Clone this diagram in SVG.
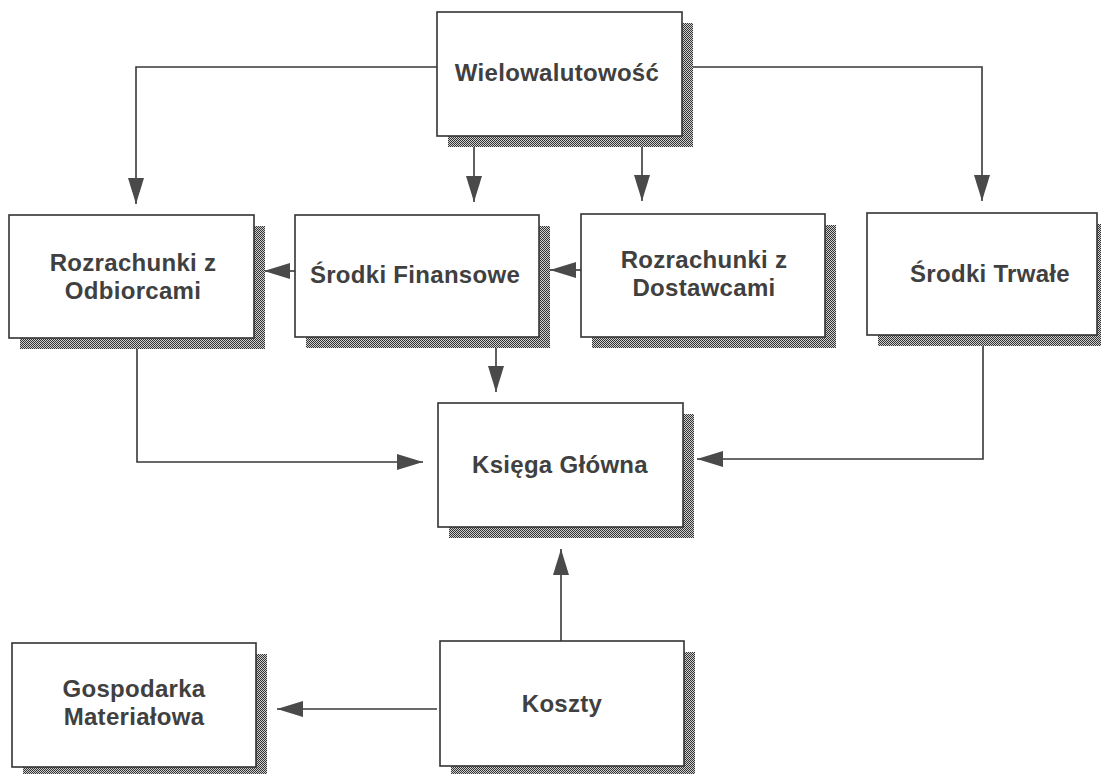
<svg xmlns="http://www.w3.org/2000/svg" width="1101" height="774" viewBox="0 0 1101 774">
  <defs>
    <pattern id="dots" width="2" height="2" patternUnits="userSpaceOnUse">
      <rect width="2" height="2" fill="#cfcfcf"/>
      <rect x="0" y="0" width="1" height="1" fill="#333333"/>
      <rect x="1" y="1" width="1" height="1" fill="#333333"/>
    </pattern>
    <marker id="arr" viewBox="0 0 26 16" refX="26" refY="8" markerWidth="26" markerHeight="16" markerUnits="userSpaceOnUse" orient="auto">
      <path d="M0,0 L26,8 L0,16 Z" fill="#4a4a4a"/>
    </marker>
  </defs>
  <style>
    .shadow { fill: url(#dots); stroke: none; }
    .box { fill: #ffffff; stroke: #333333; stroke-width: 1.6; }
    .lbl { font-family: "Liberation Sans", Arial, sans-serif; font-weight: bold; font-size: 24px; letter-spacing: 0.3px; fill: #404040; text-anchor: middle; }
    .conn { fill: none; stroke: #383838; stroke-width: 1.6; marker-end: url(#arr); }
  </style>
  <rect width="1101" height="774" fill="#ffffff"/>

  <g id="connectors">
    <path class="conn" d="M437,67 H136 V204"/>
    <path class="conn" d="M474,136 V202"/>
    <path class="conn" d="M642,136 V201"/>
    <path class="conn" d="M682,67 H982 V201"/>
    <path class="conn" d="M295,271 H264"/>
    <path class="conn" d="M581,270 H550"/>
    <path class="conn" d="M496,337 V392"/>
    <path class="conn" d="M137,338 V462 H423"/>
    <path class="conn" d="M983,335 V459 H697"/>
    <path class="conn" d="M561,641 V549"/>
    <path class="conn" d="M437,709 H277"/>
  </g>

  <g id="wielowalutowosc">
    <rect class="shadow" x="448" y="23" width="245" height="124"/>
    <rect class="box" x="437" y="12" width="245" height="124"/>
    <text class="lbl" x="557" y="81">Wielowalutowość</text>
  </g>

  <g id="rozrachunki-odbiorcami">
    <rect class="shadow" x="20" y="226" width="245" height="123"/>
    <rect class="box" x="9" y="215" width="245" height="123"/>
    <text class="lbl" x="133" y="271">Rozrachunki z</text>
    <text class="lbl" x="133" y="299">Odbiorcami</text>
  </g>

  <g id="srodki-finansowe">
    <rect class="shadow" x="306" y="226" width="244" height="122"/>
    <rect class="box" x="295" y="215" width="244" height="122"/>
    <text class="lbl" x="415" y="283">Środki Finansowe</text>
  </g>

  <g id="rozrachunki-dostawcami">
    <rect class="shadow" x="592" y="225" width="244" height="123"/>
    <rect class="box" x="581" y="214" width="244" height="123"/>
    <text class="lbl" x="704" y="268">Rozrachunki z</text>
    <text class="lbl" x="704" y="296">Dostawcami</text>
  </g>

  <g id="srodki-trwale">
    <rect class="shadow" x="878" y="224" width="230" height="122"/>
    <rect class="box" x="867" y="213" width="230" height="122"/>
    <text class="lbl" x="990" y="282">Środki Trwałe</text>
  </g>

  <g id="ksiega-glowna">
    <rect class="shadow" x="449" y="414" width="245" height="124"/>
    <rect class="box" x="438" y="403" width="245" height="124"/>
    <text class="lbl" x="560" y="473">Księga Główna</text>
  </g>

  <g id="koszty">
    <rect class="shadow" x="451" y="652" width="244" height="125"/>
    <rect class="box" x="440" y="641" width="244" height="125"/>
    <text class="lbl" x="562" y="712">Koszty</text>
  </g>

  <g id="gospodarka-materialowa">
    <rect class="shadow" x="23" y="654" width="244" height="124"/>
    <rect class="box" x="12" y="643" width="244" height="124"/>
    <text class="lbl" x="134" y="697">Gospodarka</text>
    <text class="lbl" x="134" y="725">Materiałowa</text>
  </g>
</svg>
